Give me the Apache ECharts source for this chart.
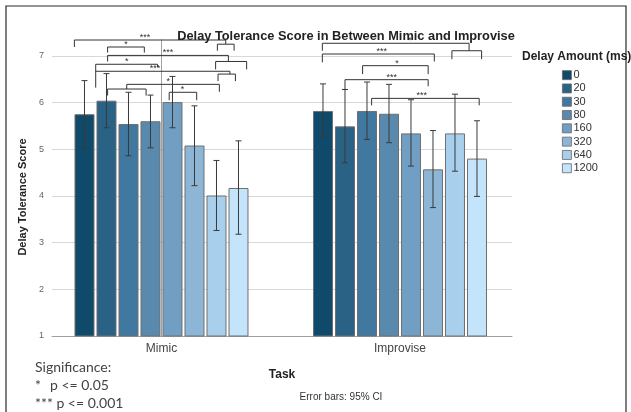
<!DOCTYPE html>
<html><head><meta charset="utf-8">
<script src="https://cdn.jsdelivr.net/npm/echarts@6/dist/echarts.min.js"></script>
<style>html,body{margin:0;padding:0;background:#fff}#c{width:631px;height:412px}</style>
</head><body><div id="c"></div>
<script>
const tasks = ['Mimic', 'Improvise'];
const delays = ['0', '20', '30', '80', '160', '320', '640', '1200'];
const meanMimic      = [5.75, 6.04, 5.54, 5.60, 6.01, 5.08, 4.01, 4.17];
const meanImprovise  = [5.82, 5.49, 5.82, 5.76, 5.34, 4.57, 5.34, 4.80];
const ciLowMimic     = [5.02, 5.46, 4.86, 5.03, 5.46, 4.22, 3.26, 3.18];
const ciHighMimic    = [6.47, 6.62, 6.22, 6.16, 6.56, 5.93, 4.76, 5.18];
const ciLowImprovise = [5.26, 4.71, 5.21, 5.14, 4.64, 3.75, 4.53, 3.99];
const ciHighImprovise= [6.40, 6.28, 6.44, 6.39, 6.06, 5.40, 6.18, 5.61];
const yTicks = [1, 2, 3, 4, 5, 6, 7];
const colors = ['#0f4a6a', '#2a6286', '#41789f', '#5a89ae', '#719ec3', '#8cb5d6', '#a8cfec', '#c3e4fa'];
// significance brackets: [task, fromBar, toBar, level, fromEnd, toEnd, labelAtBar]
const brackets = [
  [0, -0.46, 6.42, 7.34, 7.19, 7.25, 2.75],
  [0, 6.04, 6.80, 7.25, 7.11, 7.11, 0],
  [0, 1.05, 2.72, 7.19, 7.07, 7.07, 1.89],
  [0, 1.05, 6.54, 7.01, 6.88, 6.88, 3.80],
  [0, 5.96, 7.37, 6.88, 6.71, 6.71, 0],
  [0, 0.51, 3.32, 6.82, 6.32, 6.76, 1.92],
  [0, 0.51, 6.61, 6.67, 6.67, 6.61, 3.20],
  [0, 6.07, 6.86, 6.61, 6.46, 6.46, 0],
  [0, 1.92, 6.13, 6.39, 6.29, 6.23, 3.81],
  [0, 1.05, 2.80, 6.29, 6.15, 6.15, 0],
  [0, 3.85, 5.10, 6.22, 6.05, 6.05, 4.45],
  [1, -0.03, 6.64, 7.27, 7.11, 7.11, 3.95],
  [1, 5.86, 7.21, 7.11, 6.93, 6.93, 0],
  [1, -0.03, 5.06, 7.04, 6.86, 6.88, 2.67],
  [1, 1.80, 4.78, 6.79, 6.61, 6.61, 3.36],
  [1, 1.00, 4.78, 6.49, 6.28, 6.35, 3.13],
  [1, 2.21, 7.10, 6.09, 5.94, 5.94, 4.49]
];
const bracketLabels = ['***', '', '*', '***', '', '*', '***', '', '*', '', '*', '*', '', '***', '*', '***', '***'];

const FONT = "'Liberation Sans', Arial, sans-serif";
const BAR_W = 20, BAR_GAP = 0.1;
const PITCH = BAR_W * (1 + BAR_GAP);
const N = delays.length;

const chart = echarts.init(document.getElementById('c'), null, {renderer: 'canvas'});

const barSeries = delays.map((d, i) => ({
  type: 'bar', name: d, barWidth: BAR_W, barGap: (BAR_GAP * 100) + '%',
  data: [[0, meanMimic[i]], [1, meanImprovise[i]]],
  itemStyle: {color: colors[i], borderColor: '#707070', borderWidth: 1},
  emphasis: {disabled: true}, z: 2
}));

const errSeries = delays.map((d, i) => ({
  type: 'custom', name: 'ci' + d,
  data: [[0, ciLowMimic[i], ciHighMimic[i]], [1, ciLowImprovise[i], ciHighImprovise[i]]],
  encode: {x: 0, y: [1, 2]},
  z: 4, silent: true,
  renderItem: function (params, api) {
    const cx = api.coord([api.value(0), 1])[0] + (i - (N - 1) / 2) * PITCH;
    const yl = api.coord([0, api.value(1)])[1];
    const yh = api.coord([0, api.value(2)])[1];
    const st = {stroke: '#3a3a3a', lineWidth: 1};
    return {type: 'group', children: [
      {type: 'line', shape: {x1: cx, y1: yl, x2: cx, y2: yh}, style: st},
      {type: 'line', shape: {x1: cx - 3, y1: yh, x2: cx + 3, y2: yh}, style: st},
      {type: 'line', shape: {x1: cx - 3, y1: yl, x2: cx + 3, y2: yl}, style: st}
    ]};
  }
}));

const bracketSeries = {
  type: 'custom', name: 'sig', data: brackets, z: 5, silent: true, clip: false,
  encode: {x: 0, y: 3},
  renderItem: function (params, api) {
    const base = api.coord([api.value(0), 1])[0];
    const px = p => base + (p - (N - 1) / 2) * PITCH;
    const py = v => api.coord([0, v])[1];
    const xa = px(api.value(1)), xb = px(api.value(2));
    const yL = py(api.value(3)), ya = py(api.value(4)), yb = py(api.value(5));
    const children = [{type: 'polyline', shape: {points: [[xa, ya], [xa, yL], [xb, yL], [xb, yb]]},
      style: {stroke: '#333', lineWidth: 1, fill: null}}];
    const lab = bracketLabels[params.dataIndex];
    if (lab) {
      children.push({type: 'text', x: px(api.value(6)), y: yL - 2.5,
        style: {text: lab, fill: '#333', font: '9px ' + FONT, align: 'center', verticalAlign: 'middle'}});
    }
    return {type: 'group', children: children};
  }
};

chart.setOption({
  animation: false,
  backgroundColor: '#fff',
  title: [
    {text: 'Delay Tolerance Score in Between Mimic and Improvise', left: 341, top: 25, textAlign: 'center',
     textStyle: {fontFamily: FONT, fontSize: 12.8, fontWeight: 'bold', color: '#222'}},
    {text: 'Delay Amount (ms)', left: 517, top: 46,
     textStyle: {fontFamily: FONT, fontSize: 12, fontWeight: 'bold', color: '#222'}}
  ],
  legend: {
    data: delays, orient: 'vertical', left: 557, top: 63.5, itemWidth: 9, itemHeight: 9, itemGap: 0,
    icon: 'rect', selectedMode: false,
    itemStyle: {borderColor: '#666', borderWidth: 0.8},
    textStyle: {fontFamily: FONT, fontSize: 11, color: '#333', lineHeight: 13.3, padding: [0, 0, 0, -3]}
  },
  grid: {left: 52, right: 119, top: 40, bottom: 76},
  xAxis: {
    type: 'value', min: -0.4591, max: 1.4696,
    name: 'Task', nameLocation: 'middle', nameGap: 33,
    nameTextStyle: {fontFamily: FONT, fontSize: 12, fontWeight: 'bold', color: '#222'},
    axisLine: {show: true, onZero: false, lineStyle: {color: '#a0a0a0'}},
    axisTick: {show: false},
    splitLine: {show: false},
    axisLabel: {customValues: [0, 1], formatter: v => tasks[Math.round(v)] || '',
      fontFamily: FONT, fontSize: 12, color: '#444', margin: 7}
  },
  yAxis: {
    type: 'value', min: yTicks[0], max: 7.34, interval: 1,
    name: 'Delay Tolerance Score', nameLocation: 'middle', nameGap: 23,
    nameTextStyle: {fontFamily: FONT, fontSize: 11, fontWeight: 'bold', color: '#222', padding: [0, 18, 0, 0]},
    axisLine: {show: true, lineStyle: {color: '#a0a0a0'}},
    axisTick: {show: false},
    axisLabel: {showMaxLabel: false, fontFamily: FONT, fontSize: 9, color: '#666', margin: 8,
      formatter: v => (Math.abs(v - Math.round(v)) < 1e-6 ? String(Math.round(v)) : '')},
    splitLine: {show: true, showMaxLine: false, lineStyle: {color: '#d8d8d8'}}
  },
  graphic: [
    {type: 'rect', shape: {x: 6, y: 6, width: 620, height: 420}, style: {fill: null, stroke: '#2a2a2a', lineWidth: 1.2}, silent: true},
    {type: 'text', x: 35, y: 367, style: {text: 'Significance:', font: "14px Lato, sans-serif", fill: '#444', verticalAlign: 'middle'}},
    {type: 'text', x: 35, y: 385, style: {text: '*', font: "14px Lato, sans-serif", fill: '#444', verticalAlign: 'middle'}},
    {type: 'text', x: 50, y: 385, style: {text: 'p <= 0.05', font: "14px Lato, sans-serif", fill: '#444', verticalAlign: 'middle'}},
    {type: 'text', x: 35, y: 403, style: {text: '*** p <= 0.001', font: "14px Lato, sans-serif", fill: '#444', verticalAlign: 'middle'}},
    {type: 'text', x: 341, y: 397, style: {text: 'Error bars: 95% CI', font: '10px ' + FONT, fill: '#333', align: 'center', verticalAlign: 'middle'}}
  ],
  series: [...barSeries, ...errSeries, bracketSeries]
});
</script></body></html>
